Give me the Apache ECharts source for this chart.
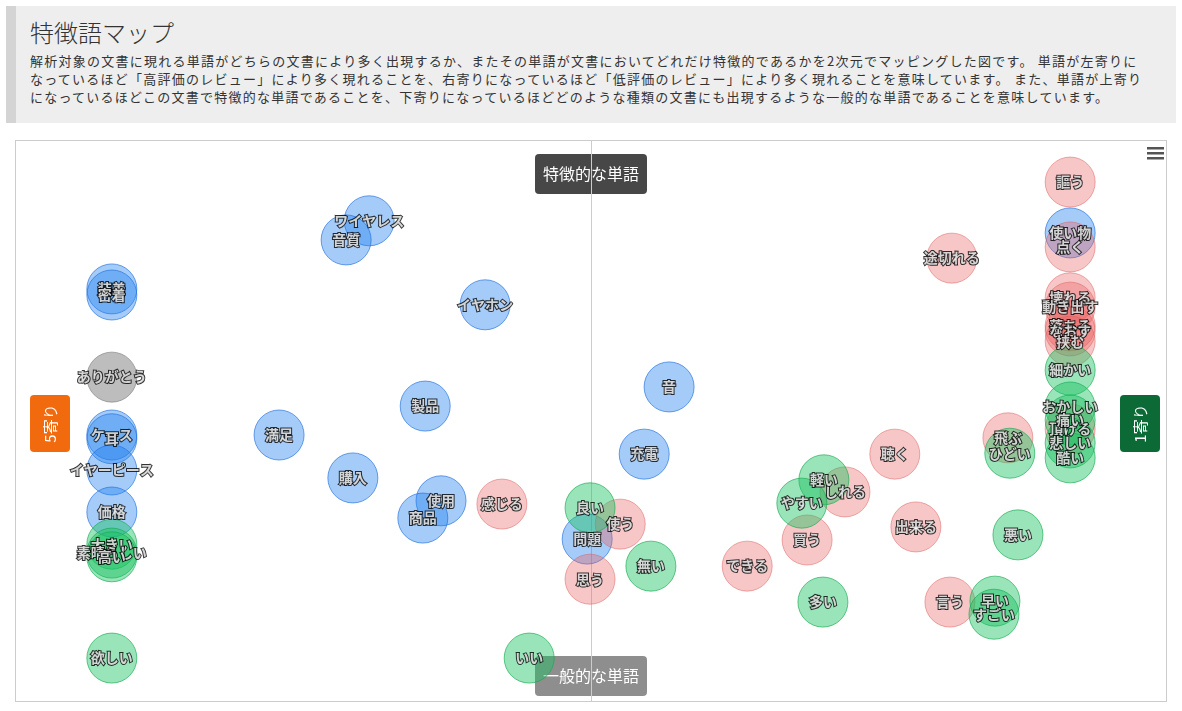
<!DOCTYPE html>
<html>
<head>
<meta charset="utf-8">
<script src="https://cdn.jsdelivr.net/npm/echarts@6/dist/echarts.min.js"></script>
<style>
  html, body { margin:0; padding:0; background:#fff; font-family:"Noto Sans CJK JP","Noto Sans",sans-serif; }
  #header { position:absolute; left:6px; top:6px; width:1170px; height:117px; background:#eeeeee; border-left:10px solid #d4d4d4; box-sizing:border-box; }
  #title { position:absolute; left:14px; top:12px; font-size:24px; line-height:28px; color:#333; font-weight:300; white-space:nowrap; }
  #desc { position:absolute; left:14px; top:46px; font-size:13px; line-height:18px; color:#333; white-space:nowrap; letter-spacing:1.25px; }
  #chart { position:absolute; left:15px; top:140px; width:1152px; height:562px; border:1px solid #cccccc; box-sizing:border-box; }
</style>
</head>
<body>
<div id="header">
  <div id="title">特徴語マップ</div>
  <div id="desc">解析対象の文書に現れる単語がどちらの文書により多く出現するか、またその単語が文書においてどれだけ特徴的であるかを2次元でマッピングした図です。 単語が左寄りに<br>なっているほど「高評価のレビュー」により多く現れることを、右寄りになっているほど「低評価のレビュー」により多く現れることを意味しています。 また、単語が上寄り<br>になっているほどこの文書で特徴的な単語であることを、下寄りになっているほどどのような種類の文書にも出現するような一般的な単語であることを意味しています。</div>
</div>
<div id="chart"></div>
<script>
// 名詞 (blue)
const nounWords = ['ワイヤレス','音質','装着','密着','イヤホン','ケース','耳','イヤーピース','価格','製品','満足','購入','使用','商品','音','充電','問題','使い物'];
const nounX =     [-0.463, -0.511, -1.0, -1.0, -0.221, -1.0, -1.0, -1.0, -1.0, -0.346, -0.651, -0.497, -0.313, -0.351, 0.163, 0.111, -0.008, 1.0];
const nounY =     [0.929, 0.888, 0.783, 0.770, 0.749, 0.470, 0.462, 0.395, 0.305, 0.532, 0.470, 0.378, 0.329, 0.292, 0.573, 0.429, 0.247, 0.903];
// 動詞 (pink)
const verbWords = ['謳う','点く','途切れる','壊れる','動き出す','落ちる','なおす','挟む','頂ける','聴く','飛ぶ','しれる','感じる','使う','出来る','買う','できる','思う','言う'];
const verbX =     [1.0, 1.0, 0.753, 1.0, 1.0, 1.0, 1.0, 1.0, 1.0, 0.634, 0.870, 0.530, -0.186, 0.061, 0.678, 0.451, 0.326, -0.002, 0.749];
const verbY =     [1.012, 0.873, 0.849, 0.764, 0.744, 0.704, 0.693, 0.671, 0.483, 0.429, 0.464, 0.348, 0.322, 0.279, 0.273, 0.245, 0.189, 0.161, 0.112];
// 形容詞 (green)
const adjWords = ['細かい','おかしい','痛い','悲しい','酷い','ひどい','軽い','やすい','良い','無い','悪い','多い','早い','すごい','大きい','素晴らしい','高い','欲しい','いい'];
const adjX =     [1.0, 1.0, 1.0, 1.0, 1.0, 0.874, 0.486, 0.440, -0.002, 0.125, 0.891, 0.484, 0.843, 0.841, -1.0, -1.0, -1.0, -1.0, -0.129];
const adjY =     [0.609, 0.530, 0.502, 0.453, 0.421, 0.431, 0.374, 0.324, 0.314, 0.189, 0.256, 0.112, 0.114, 0.086, 0.236, 0.217, 0.209, -0.008, -0.008];
// 感動詞 (grey)
const intjWords = ['ありがとう'];
const intjX =     [-1.0];
const intjY =     [0.594];

function build(words, xs, ys) {
  return words.map((w, i) => ({ name: w, value: [xs[i], ys[i]] }));
}

const labelStyle = {
  show: true, position: 'inside', formatter: '{b}',
  color: '#fff', fontSize: 14, fontWeight: 'bold',
  fontFamily: '"Noto Sans CJK JP", sans-serif',
  textBorderColor: '#000', textBorderWidth: 2
};

function series(name, words, xs, ys, fill, border) {
  return {
    name: name, type: 'scatter', symbolSize: 50,
    data: build(words, xs, ys),
    itemStyle: { color: fill, borderColor: border, borderWidth: 1 },
    label: labelStyle,
    emphasis: { disabled: true }
  };
}

const chart = echarts.init(document.getElementById('chart'));
chart.setOption({
  animation: false,
  grid: { left: 0, right: 0, top: 0, bottom: 0 },
  xAxis: { type: 'value', min: -1.2, max: 1.2, show: true,
    axisLine: { show: false }, axisTick: { show: false }, axisLabel: { show: false }, splitLine: { show: false } },
  yAxis: { type: 'value', min: -0.1, max: 1.1,
    axisLine: { show: true, onZero: true, lineStyle: { color: '#cccccc', width: 1 } },
    axisTick: { show: false }, axisLabel: { show: false }, splitLine: { show: false } },
  series: [
    series('名詞', nounWords, nounX, nounY, 'rgba(30,127,240,0.5)', 'rgba(30,110,220,0.8)'),
    series('動詞', verbWords, verbX, verbY, 'rgba(232,96,96,0.45)', 'rgba(220,90,90,0.6)'),
    series('形容詞', adjWords, adjX, adjY, 'rgba(23,194,96,0.55)', 'rgba(20,170,80,0.8)'),
    series('感動詞', intjWords, intjX, intjY, 'rgba(128,128,128,0.65)', 'rgba(128,128,128,0.8)')
  ],
  graphic: [
    { type: 'group', z: 100, children: [
      { type: 'rect', shape: { x: 519, y: 13, width: 112, height: 40, r: 4 }, style: { fill: 'rgba(55,55,55,0.92)' } },
      { type: 'text', x: 575, y: 33, style: { text: '特徴的な単語', fill: '#fff', font: '16px "Noto Sans CJK JP"', textAlign: 'center', textVerticalAlign: 'middle' } }
    ]},
    { type: 'group', z: 100, children: [
      { type: 'rect', shape: { x: 519, y: 515, width: 112, height: 40, r: 4 }, style: { fill: 'rgba(110,110,110,0.78)' } },
      { type: 'text', x: 575, y: 535, style: { text: '一般的な単語', fill: '#fff', font: '16px "Noto Sans CJK JP"', textAlign: 'center', textVerticalAlign: 'middle' } }
    ]},
    { type: 'group', z: 100, children: [
      { type: 'rect', shape: { x: 14, y: 254, width: 40, height: 57, r: 4 }, style: { fill: '#f26a0e' } },
      { type: 'text', x: 34, y: 282.5, rotation: Math.PI / 2, style: { text: '5寄り', fill: '#fff', font: '15px "Noto Sans CJK JP"', textAlign: 'center', textVerticalAlign: 'middle' } }
    ]},
    { type: 'group', z: 100, children: [
      { type: 'rect', shape: { x: 1104, y: 254, width: 40, height: 57, r: 4 }, style: { fill: '#0b6a36' } },
      { type: 'text', x: 1124, y: 282.5, rotation: Math.PI / 2, style: { text: '1寄り', fill: '#fff', font: '15px "Noto Sans CJK JP"', textAlign: 'center', textVerticalAlign: 'middle' } }
    ]},
    { type: 'group', z: 100, children: [
      { type: 'rect', shape: { x: 1131, y: 6, width: 17, height: 2.5 }, style: { fill: '#555' } },
      { type: 'rect', shape: { x: 1131, y: 11, width: 17, height: 2.5 }, style: { fill: '#555' } },
      { type: 'rect', shape: { x: 1131, y: 16, width: 17, height: 2.5 }, style: { fill: '#555' } }
    ]}
  ]
});
</script>
</body>
</html>
